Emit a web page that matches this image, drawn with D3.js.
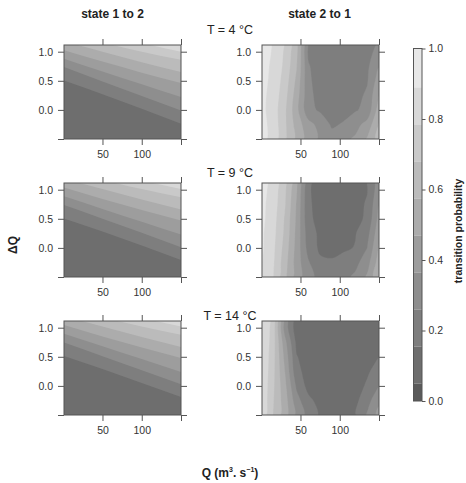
<!DOCTYPE html>
<html lang="en">
<head>
<meta charset="UTF-8">
<title>Transition probability contours</title>
<script src="https://d3js.org/d3.v7.min.js"></script>
<style>
  body { margin: 0; background: #fff; font-family: "Liberation Sans", Arial, sans-serif; }
  svg text { font-family: "Liberation Sans", Arial, sans-serif; }
  .tick text { fill: #333; font-size: 10.5px; }
  .tick line { stroke: #555; }
  .title { font-weight: bold; font-size: 12px; fill: #222; }
</style>
</head>
<body>
<svg id="chart" width="466" height="483"></svg>
<script>
// ---- data ----
const colTitles = ["state 1 to 2", "state 2 to 1"];
const tempLabels = ["T = 4 °C", "T = 9 °C", "T = 14 °C"];
const xTicks = [50, 100, 150];
const yTicks = [-0.5, 0, 0.5, 1.0];
const legendTicks = [0, 0.2, 0.4, 0.6, 0.8, 1.0];
const levels = [0.05, 0.155, 0.26, 0.365, 0.47, 0.575, 0.68, 0.785, 0.89];
const greys = ["#5a5a5a", "#6e6e6e", "#7e7e7e", "#8e8e8e", "#9d9d9d",
               "#acacac", "#bbbbbb", "#c9c9c9", "#d8d8d8", "#e7e7e7"];

// state 1 -> 2: the band boundaries are near-straight lines.
// delta Q of each boundary (levels 0.155 ... 0.785) at Q = 0, 50, 100, 150
const lineQ12 = [0, 50, 100, 150];
const edges12T4 = [
  [0.51, 0.27, 0.02, -0.24],
  [0.74, 0.49, 0.24, -0.01],
  [0.885, 0.66, 0.44, 0.22],
  [1.03, 0.83, 0.64, 0.46],
  [1.18, 1.0, 0.82, 0.65],
  [1.34, 1.16, 1.0, 0.86],
  [1.5, 1.32, 1.15, 1.0]
];
const edges12T9 = [
  [0.51, 0.28, 0.04, -0.21],
  [0.74, 0.50, 0.26, 0.01],
  [0.89, 0.67, 0.45, 0.23],
  [1.04, 0.84, 0.65, 0.47],
  [1.19, 1.01, 0.83, 0.66],
  [1.35, 1.17, 1.01, 0.87],
  [1.5, 1.33, 1.16, 1.01]
];
const edges12T14 = [
  [0.52, 0.29, 0.05, -0.19],
  [0.75, 0.51, 0.27, 0.03],
  [0.9, 0.68, 0.46, 0.24],
  [1.05, 0.85, 0.66, 0.48],
  [1.2, 1.02, 0.84, 0.67],
  [1.36, 1.18, 1.02, 0.88],
  [1.5, 1.34, 1.17, 1.02]
];

// state 2 -> 1: probability on a grid
// rows: delta Q from -0.5 to 1.25 (step 0.25); columns: Q 0..150 step 15
const gridDQ = [-0.5, -0.25, 0, 0.25, 0.5, 0.75, 1.0, 1.25];
const gridQ21 = [0, 15, 30, 45, 60, 75, 90, 105, 120, 135, 150];

const p21T4 = [
  [0.93, 0.85, 0.70, 0.55, 0.42, 0.35, 0.30, 0.34, 0.38, 0.48, 0.62],
  [0.93, 0.85, 0.70, 0.53, 0.40, 0.33, 0.245, 0.27, 0.33, 0.40, 0.58],
  [0.92, 0.84, 0.70, 0.50, 0.29, 0.245, 0.22, 0.225, 0.25, 0.29, 0.52],
  [0.92, 0.85, 0.72, 0.52, 0.29, 0.22, 0.21, 0.21, 0.22, 0.28, 0.47],
  [0.93, 0.86, 0.74, 0.55, 0.28, 0.21, 0.20, 0.20, 0.21, 0.25, 0.42],
  [0.93, 0.87, 0.76, 0.58, 0.27, 0.20, 0.19, 0.19, 0.20, 0.24, 0.36],
  [0.94, 0.88, 0.77, 0.60, 0.24, 0.20, 0.19, 0.19, 0.20, 0.22, 0.30],
  [0.94, 0.88, 0.78, 0.62, 0.23, 0.20, 0.19, 0.19, 0.20, 0.21, 0.26]
];
const p21T9 = [
  [0.90, 0.79, 0.60, 0.42, 0.30, 0.22, 0.21, 0.23, 0.28, 0.38, 0.56],
  [0.90, 0.80, 0.62, 0.42, 0.27, 0.175, 0.165, 0.19, 0.23, 0.32, 0.52],
  [0.91, 0.81, 0.64, 0.43, 0.22, 0.135, 0.13, 0.14, 0.16, 0.26, 0.48],
  [0.91, 0.82, 0.66, 0.44, 0.20, 0.135, 0.12, 0.125, 0.15, 0.22, 0.44],
  [0.92, 0.83, 0.67, 0.45, 0.175, 0.125, 0.115, 0.115, 0.13, 0.17, 0.40],
  [0.92, 0.84, 0.69, 0.46, 0.17, 0.12, 0.11, 0.11, 0.125, 0.165, 0.36],
  [0.93, 0.85, 0.70, 0.48, 0.165, 0.12, 0.11, 0.11, 0.12, 0.15, 0.32],
  [0.93, 0.86, 0.72, 0.50, 0.17, 0.12, 0.11, 0.11, 0.12, 0.15, 0.30]
];
const p21T14 = [
  [0.87, 0.68, 0.52, 0.34, 0.22, 0.14, 0.11, 0.11, 0.15, 0.27, 0.40],
  [0.88, 0.69, 0.52, 0.30, 0.18, 0.12, 0.10, 0.10, 0.13, 0.22, 0.34],
  [0.88, 0.70, 0.50, 0.24, 0.12, 0.10, 0.095, 0.095, 0.11, 0.17, 0.26],
  [0.89, 0.71, 0.47, 0.18, 0.12, 0.095, 0.09, 0.09, 0.10, 0.14, 0.20],
  [0.89, 0.72, 0.44, 0.16, 0.11, 0.09, 0.085, 0.085, 0.095, 0.12, 0.155],
  [0.90, 0.73, 0.40, 0.13, 0.10, 0.09, 0.08, 0.08, 0.09, 0.10, 0.13],
  [0.90, 0.74, 0.32, 0.09, 0.085, 0.08, 0.08, 0.08, 0.08, 0.09, 0.11],
  [0.90, 0.75, 0.33, 0.09, 0.085, 0.08, 0.08, 0.08, 0.08, 0.09, 0.10]
];

const edges12 = [edges12T4, edges12T9, edges12T14];
const grids21 = [p21T4, p21T9, p21T14];

// ---- layout ----
const svg = d3.select("#chart");
const W = 117, H = 94;
const colX = [64, 262];
const rowY = [45, 183, 321];
const tempBaseline = [34, 176.5, 320];

function scales(px, py) {
  return {
    x: d3.scaleLinear().domain([1, 150]).range([px, px + W]),
    y: d3.scaleLinear().domain([-0.5, 1.115]).range([py + H, py])
  };
}

function clipped(px, py, id) {
  svg.append("clipPath").attr("id", id)
    .append("rect").attr("x", px).attr("y", py).attr("width", W).attr("height", H);
  return svg.append("g").attr("clip-path", `url(#${id})`);
}

function frame(px, py) {
  const { x, y } = scales(px, py);
  svg.append("g").attr("transform", `translate(0,${py + H})`)
    .call(d3.axisBottom(x).tickValues(xTicks).tickSize(6).tickPadding(6)
      .tickFormat(d => d === 150 ? "" : d))
    .call(g => g.select(".domain").remove());
  svg.append("g").attr("transform", `translate(0,${py})`)
    .call(d3.axisTop(x).tickValues(xTicks).tickSize(6).tickFormat(""))
    .call(g => g.select(".domain").remove());
  svg.append("g").attr("transform", `translate(${px},0)`)
    .call(d3.axisLeft(y).tickValues(yTicks).tickSize(6).tickPadding(5)
      .tickFormat(d => d < 0 ? "" : d3.format(".1f")(d)))
    .call(g => g.select(".domain").remove());
  svg.append("g").attr("transform", `translate(${px + W},0)`)
    .call(d3.axisRight(y).tickValues(yTicks).tickSize(6).tickFormat(""))
    .call(g => g.select(".domain").remove());
  svg.append("rect")
    .attr("x", px).attr("y", py).attr("width", W).attr("height", H)
    .attr("fill", "none").attr("stroke", "#555").attr("stroke-width", 1);
}

// diagonal bands: everything above each boundary line gets the next grey
function drawBands(px, py, edges, id) {
  const { x, y } = scales(px, py);
  const g = clipped(px, py, id);
  g.append("rect").attr("x", px).attr("y", py).attr("width", W).attr("height", H)
    .attr("fill", greys[1]);
  const area = d3.area()
    .x((d, i) => x(lineQ12[i]))
    .y0(py - 10)
    .y1(d => y(d))
    .curve(d3.curveNatural);
  g.selectAll("path")
    .data(edges)
    .join("path")
    .attr("d", area)
    .attr("fill", (d, i) => greys[i + 2]);
}

// filled contours of a probability grid
function drawContours(px, py, values, id) {
  const { x, y } = scales(px, py);
  const qStep = gridQ21[1] - gridQ21[0];
  const dqStep = gridDQ[1] - gridDQ[0];
  const contours = d3.contours()
    .size([gridQ21.length, gridDQ.length])
    .thresholds([0, ...levels])(values.flat());
  const ringLine = d3.line()
    .x(p => x(gridQ21[0] + (p[0] - 0.5) * qStep))
    .y(p => y(gridDQ[0] + (p[1] - 0.5) * dqStep))
    .curve(d3.curveCatmullRomClosed.alpha(0.5));
  const shape = c => c.coordinates
    .flatMap(poly => poly.map(ring => ringLine(ring.slice(0, -1))))
    .join("");
  clipped(px, py, id)
    .selectAll("path")
    .data(contours)
    .join("path")
    .attr("d", shape)
    .attr("fill-rule", "evenodd")
    .attr("fill", (d, i) => greys[i])
    .attr("stroke", (d, i) => greys[i])
    .attr("stroke-width", 0.3);
}

rowY.forEach((py, r) => {
  drawBands(colX[0], py, edges12[r], "c12_" + r);
  frame(colX[0], py);
  drawContours(colX[1], py, grids21[r], "c21_" + r);
  frame(colX[1], py);
  svg.append("text")
    .attr("x", 230).attr("y", tempBaseline[r])
    .attr("text-anchor", "middle")
    .style("font-size", "12.5px").attr("fill", "#222")
    .text(tempLabels[r]);
});

svg.selectAll(".title")
  .data(colTitles)
  .join("text")
  .attr("class", "title")
  .attr("x", (d, i) => colX[i] + W / 2 + (i === 0 ? -10 : -1))
  .attr("y", 18)
  .attr("text-anchor", "middle")
  .text(d => d);

// ---- colour key ----
const ky = d3.scaleLinear().domain([0, 1]).range([401, 48.5]);
const kx = 413.5, kw = 8.5;
const edges = [0, ...levels, 1];
svg.append("g").selectAll("rect")
  .data(greys)
  .join("rect")
  .attr("x", kx)
  .attr("y", (d, i) => ky(edges[i + 1]))
  .attr("width", kw)
  .attr("height", (d, i) => ky(edges[i]) - ky(edges[i + 1]))
  .attr("fill", d => d);
svg.append("rect")
  .attr("x", kx).attr("y", ky(1)).attr("width", kw).attr("height", ky(0) - ky(1))
  .attr("fill", "none").attr("stroke", "#555");
svg.append("g").attr("transform", `translate(${kx + kw},0)`)
  .call(d3.axisRight(ky).tickValues(legendTicks).tickSize(3.5).tickPadding(3)
    .tickFormat(d3.format(".1f")))
  .call(g => g.select(".domain").remove());

svg.append("text")
  .attr("transform", "translate(458,231) rotate(-90)")
  .attr("text-anchor", "middle").attr("dominant-baseline", "central")
  .style("font-weight", "bold").style("font-size", "10.5px").attr("fill", "#222")
  .text("transition probability");

// ---- axis titles ----
svg.append("text")
  .attr("transform", "translate(13,245) rotate(-90)")
  .attr("text-anchor", "middle").attr("dominant-baseline", "central")
  .style("font-weight", "bold").style("font-size", "12px").attr("fill", "#222")
  .text("ΔQ");

const xl = svg.append("text")
  .attr("x", 230).attr("y", 477)
  .attr("text-anchor", "middle")
  .style("font-weight", "bold").style("font-size", "12px").attr("fill", "#222");
xl.append("tspan").text("Q  (m");
xl.append("tspan").attr("dy", -5).style("font-size", "7px").text("3");
xl.append("tspan").attr("dy", 5).text(". s");
xl.append("tspan").attr("dy", -5).style("font-size", "7px").text("−1");
xl.append("tspan").attr("dy", 5).text(")");
</script>
</body>
</html>
